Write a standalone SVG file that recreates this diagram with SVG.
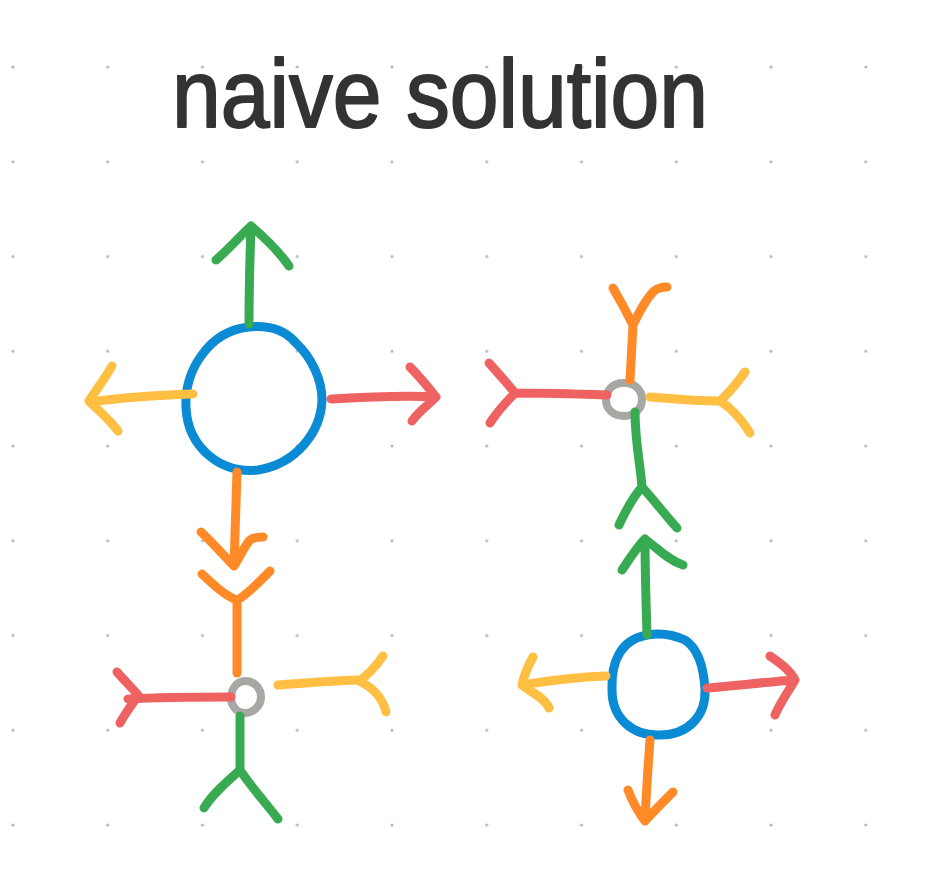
<svg xmlns="http://www.w3.org/2000/svg" width="930" height="877" viewBox="0 0 930 877">
<defs>
<pattern id="dots" x="13" y="67" width="94.75" height="94.75" patternUnits="userSpaceOnUse">
<circle cx="0" cy="0" r="1.6" fill="#b4b7bb"/>
<circle cx="94.75" cy="0" r="1.6" fill="#b4b7bb"/>
<circle cx="0" cy="94.75" r="1.6" fill="#b4b7bb"/>
<circle cx="94.75" cy="94.75" r="1.6" fill="#b4b7bb"/>
</pattern>
<style>
.s{fill:none;stroke-linecap:round;stroke-linejoin:round;stroke-width:9}
.blue{stroke:#0a8bd3}
.green{stroke:#38ab52}
.red{stroke:#ee6262}
.yellow{stroke:#ffbf42}
.orange{stroke:#ff8a27}
.gray{stroke:#a7a8a3;stroke-width:8}
.title{font-family:"Liberation Sans","Noto Sans",Arial,sans-serif;font-size:96px;fill:#333333;stroke:#333333;stroke-width:2;stroke-linejoin:round}
</style>
</defs>
<rect width="930" height="877" fill="#ffffff"/>
<rect x="0" y="0" width="930" height="877" fill="url(#dots)"/>

<text class="title" x="172" y="127" textLength="536" lengthAdjust="spacingAndGlyphs">naive solution</text>

<g id="node-top-left">
<path class="s blue" d="M249,327 C268,325 285,330 296,343 C312,358 322,380 322,400 C321,432 296,464 258,470 C220,474 188,447 186,408 C184,372 208,331 249,327 Z"/>
<path class="s green" d="M249,324 C249,290 250,255 251,226 M216,260 C230,248 240,236 251,226 C265,238 278,250 289,266"/>
<path class="s yellow" d="M193,394 C160,395 125,397 91,402 M112,366 C104,380 96,390 89,401 C98,410 110,420 118,431"/>
<path class="s red" d="M331,399 C366,397 400,395 436,397 M410,367 C420,377 428,387 436,397 C428,405 418,412 412,421"/>
</g>

<g id="node-bottom-left">
<path class="s gray" d="M245,681 C255,681 261,689 261,697 C261,706 253,713 245,713 C237,713 231,706 231,698 C231,689 237,681 245,681 Z"/>
<path class="s orange" d="M237,472 C236,505 235,535 234,566 M201,532 C214,544 224,556 234,566 C240,556 246,544 250,540 C254,537 259,537 263,537 M202,574 C214,585 225,596 237,600 C246,596 259,582 270,571 M237,602 C237,630 237,650 237,673"/>
<path class="s red" d="M231,697 C200,697 165,697 128,699 M117,672 C124,680 132,688 138,695 C132,705 126,712 120,723"/>
<path class="s yellow" d="M278,685 C305,683 330,681 357,680 M383,656 C376,666 368,675 359,681 C370,686 382,696 386,712"/>
<path class="s green" d="M240,716 C240,735 240,752 240,770 M204,808 C213,793 228,781 240,770 C252,788 265,802 278,819"/>
</g>

<g id="node-top-right">
<path class="s gray" d="M623,383 C634,382 642,390 642,399 C642,410 634,416 624,416 C613,416 606,409 606,400 C606,390 613,383 623,383 Z"/>
<path class="s orange" d="M630,380 C631,360 632,342 633,325 M613,288 C620,300 627,313 633,325 C640,310 647,298 654,291 C658,288 662,287 667,287"/>
<path class="s red" d="M607,395 C578,394 545,393 515,393 M489,363 C497,372 507,383 515,393 C506,402 497,412 490,423"/>
<path class="s yellow" d="M650,397 C675,399 698,401 720,401 M745,372 C737,383 729,393 720,401 C734,410 742,420 750,433"/>
<path class="s green" d="M635,412 C635,440 640,462 642,487 M619,525 C626,510 633,497 642,487 C654,500 665,515 677,528"/>
</g>

<g id="node-bottom-right">
<path class="s blue" d="M647,635 C658,633 672,634 685,640 C700,650 704,670 705,690 C706,716 688,735 660,735 C632,736 612,718 612,690 C611,662 620,640 647,635 Z"/>
<path class="s green" d="M647,635 C646,600 645,570 645,539 M622,570 C630,558 637,547 645,539 C657,548 668,560 683,565"/>
<path class="s yellow" d="M606,676 C578,677 552,680 522,685 M533,657 C528,666 524,675 522,685 C532,693 545,698 549,708"/>
<path class="s red" d="M707,688 C735,686 765,682 795,680 M770,656 C780,663 790,670 795,680 C788,692 780,703 775,715"/>
<path class="s orange" d="M650,740 C648,768 646,795 645,821 M628,790 C633,803 638,812 645,821 C655,810 665,800 673,792"/>
</g>

<g id="connectors"></g>
</svg>
